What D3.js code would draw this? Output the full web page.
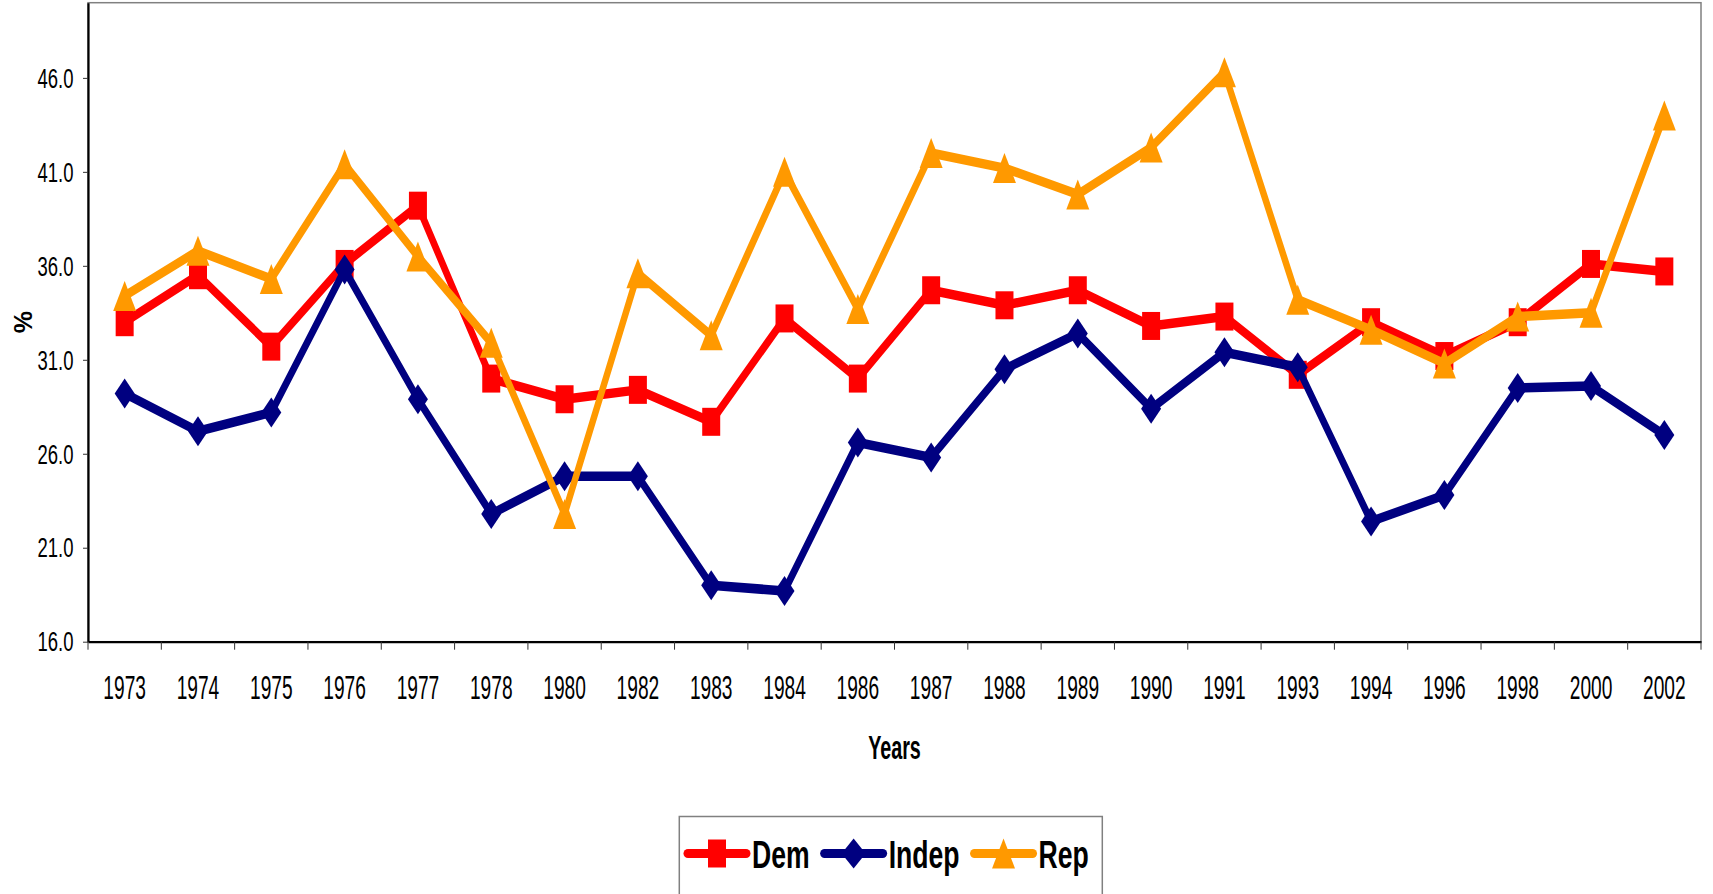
<!DOCTYPE html>
<html>
<head>
<meta charset="utf-8">
<script src="https://cdn.jsdelivr.net/npm/d3@7"></script>
<style>
  body { margin: 0; background: #fff; }
  text { font-family: "Liberation Sans", Arial, sans-serif; fill: #000; }
</style>
</head>
<body>
<script>
// survey years (category axis, not evenly spaced)
const years = ["1973", "1974", "1975", "1976", "1977", "1978", "1980", "1982", "1983", "1984", "1986",
               "1987", "1988", "1989", "1990", "1991", "1993", "1994", "1996", "1998", "2000", "2002"];

// % values per party
const dem   = [33.0, 35.5, 31.7, 36.1, 39.2, 30.0, 28.9, 29.4, 27.7, 33.2, 30.0,
               34.7, 33.9, 34.7, 32.8, 33.3, 30.2, 33.0, 31.2, 33.0, 36.1, 35.7];
const indep = [29.2, 27.2, 28.2, 35.8, 28.9, 22.8, 24.8, 24.8, 19.0, 18.7, 26.6,
               25.8, 30.5, 32.4, 28.4, 31.4, 30.6, 22.4, 23.8, 29.5, 29.6, 27.0];
const rep   = [34.4, 36.8, 35.3, 41.4, 36.5, 31.9, 22.8, 35.6, 32.3, 41.0, 33.7,
               42.0, 41.2, 39.8, 42.3, 46.3, 34.2, 32.6, 30.8, 33.3, 33.5, 44.0];

const yTicks = [16, 21, 26, 31, 36, 41, 46];
const seriesNames = ["Dem", "Indep", "Rep"];
const seriesColors = ["#ff0000", "#000080", "#ff9900"];
const seriesShapes = ["square", "diamond", "triangle"];
const seriesValues = [dem, indep, rep];

const W = 1713, H = 894;
const plot = {left: 88, right: 1701, top: 2.7, bottom: 641.7};
const SX = 0.65; // the original picture is squeezed sideways

const svg = d3.select("body").append("svg")
  .attr("width", W)
  .attr("height", H);

const x = d3.scaleBand().domain(years).range([plot.left, plot.right]);
const y = d3.scaleLinear().domain([16, 50]).range([plot.bottom, plot.top]);
const cx = d => x(d) + x.bandwidth() / 2;

// frame (top + right are thin grey)
svg.append("rect")
  .attr("x", plot.left).attr("y", plot.top)
  .attr("width", plot.right - plot.left).attr("height", plot.bottom - plot.top)
  .attr("fill", "none").attr("stroke", "#808080").attr("stroke-width", 1.5);

// y axis
const yAxis = svg.append("g")
  .attr("transform", `translate(${plot.left},0)`)
  .call(d3.axisLeft(y).tickValues(yTicks).tickSize(5).tickSizeOuter(0).tickFormat(d3.format(".1f")));
yAxis.select(".domain").attr("stroke", "#000").attr("stroke-width", 2.2);
yAxis.selectAll(".tick line").attr("stroke", "#333").attr("stroke-width", 1);
yAxis.selectAll(".tick text")
  .attr("font-size", 28)
  .attr("x", -14.5 / 0.66)
  .attr("dy", "0.33em")
  .attr("transform", "scale(0.66,1)");

// x axis, labels in the middle of each category
const xAxis = svg.append("g")
  .attr("transform", `translate(0,${plot.bottom})`)
  .call(d3.axisBottom(x).tickSize(0).tickSizeOuter(0));
xAxis.select(".domain").attr("stroke", "#000").attr("stroke-width", 2.2);
xAxis.selectAll(".tick text")
  .attr("font-size", 33)
  .attr("y", 57)
  .attr("dy", 0)
  .attr("transform", "scale(0.58,1)");

// tick marks sit between categories
const bounds = years.map(d => x(d)).concat([x.range()[1]]);
xAxis.selectAll("line.between").data(bounds)
  .enter().append("line")
  .attr("class", "between")
  .attr("x1", d => d).attr("x2", d => d)
  .attr("y1", 0).attr("y2", 8)
  .attr("stroke", "#333").attr("stroke-width", 1);

// axis titles
svg.append("text")
  .attr("transform", `translate(${(plot.left + plot.right) / 2},759) scale(0.58,1)`)
  .attr("text-anchor", "middle")
  .attr("font-size", 34)
  .attr("font-weight", "bold")
  .text("Years");

svg.append("text")
  .attr("transform", `translate(32,${(plot.top + plot.bottom) / 2}) rotate(-90)`)
  .attr("text-anchor", "middle")
  .attr("font-size", 25)
  .attr("font-weight", "bold")
  .text("%");

// marker shapes, w x h box centred on 0,0
function markerPath(shape, w, h) {
  if (shape == "square") return `M${-w/2},${-h/2}h${w}v${h}h${-w}Z`;
  if (shape == "diamond") return `M0,${-h/2}L${w/2},0L0,${h/2}L${-w/2},0Z`;
  return `M0,${-h/2}L${w/2},${h/2}L${-w/2},${h/2}Z`;
}
const markerSize = {square: [18, 28], diamond: [20, 30], triangle: [23, 30]};

// lines drawn in a squeezed group so steep strokes come out thinner
const lineGen = d3.line()
  .x((d, i) => cx(years[i]) / SX)
  .y(d => y(d));

seriesValues.forEach(function(vals, s) {
  svg.append("g")
    .attr("transform", `scale(${SX},1)`)
    .append("path")
      .datum(vals)
      .attr("d", lineGen)
      .attr("fill", "none")
      .attr("stroke", seriesColors[s])
      .attr("stroke-width", 9.5)
      .attr("stroke-linejoin", "round");

  const sz = markerSize[seriesShapes[s]];
  svg.append("g").selectAll("path").data(vals)
    .enter().append("path")
      .attr("transform", (d, i) => `translate(${cx(years[i])},${y(d)})`)
      .attr("d", markerPath(seriesShapes[s], sz[0], sz[1]))
      .attr("fill", seriesColors[s]);
});

// legend
const legend = svg.append("g");
legend.append("rect")
  .attr("x", 679.3).attr("y", 816.5)
  .attr("width", 423).attr("height", 120)
  .attr("fill", "#fff").attr("stroke", "#808080").attr("stroke-width", 1.5);

let lx = 688;
seriesNames.forEach(function(name, s) {
  legend.append("line")
    .attr("x1", lx).attr("x2", lx + 58)
    .attr("y1", 853.5).attr("y2", 853.5)
    .attr("stroke", seriesColors[s])
    .attr("stroke-width", 9)
    .attr("stroke-linecap", "round");
  const sz = markerSize[seriesShapes[s]];
  legend.append("path")
    .attr("transform", `translate(${lx + 29},853.5)`)
    .attr("d", markerPath(seriesShapes[s], s == 1 ? 24 : sz[0], sz[1]))
    .attr("fill", seriesColors[s]);
  const t = legend.append("text")
    .attr("transform", `translate(${lx + 64},868) scale(0.7,1)`)
    .attr("font-size", 38)
    .attr("font-weight", "bold")
    .text(name);
  lx += 64 + t.node().getComputedTextLength() * 0.7 + 15;
});
</script>
</body>
</html>
